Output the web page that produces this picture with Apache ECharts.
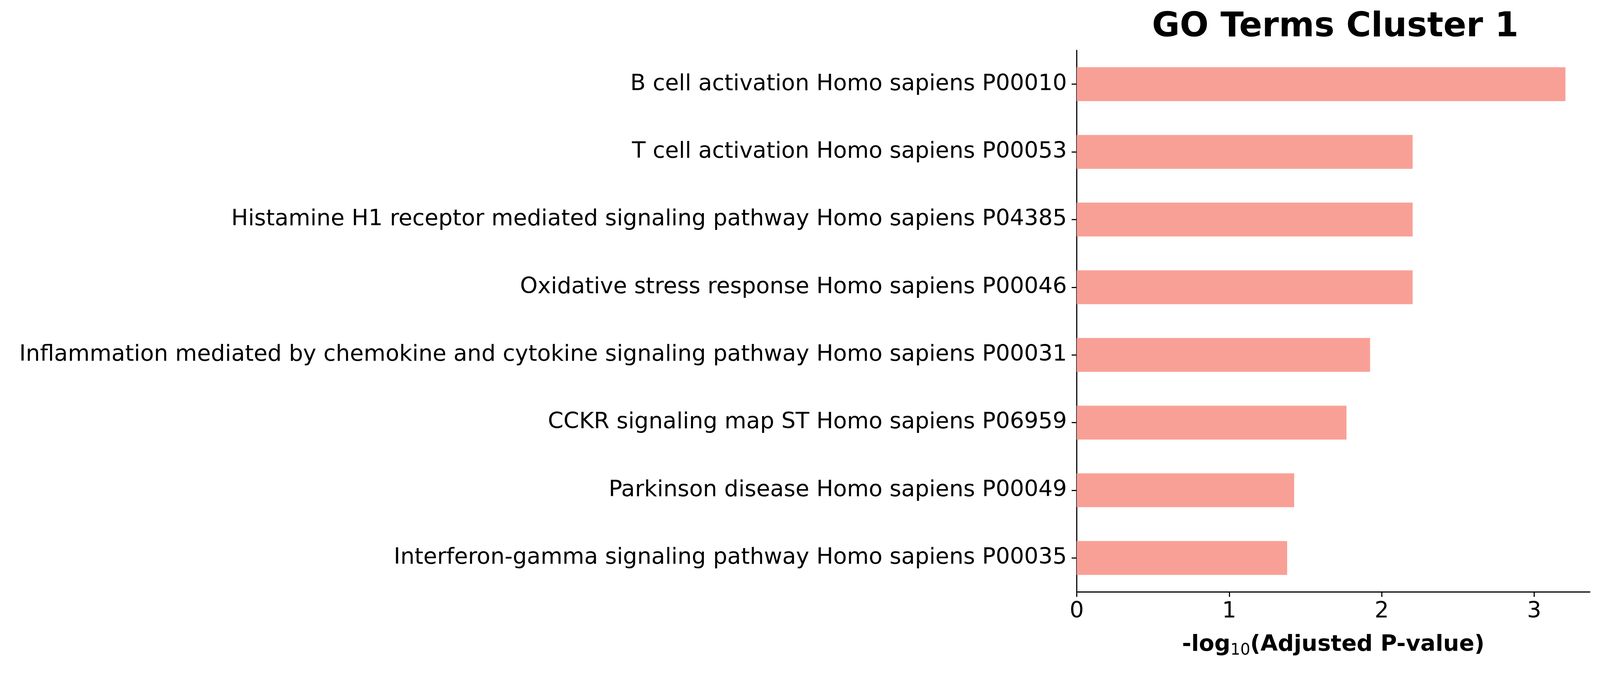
<!DOCTYPE html>
<html>
<head>
<meta charset="utf-8">
<script src="https://cdn.jsdelivr.net/npm/echarts@6/dist/echarts.min.js"></script>
<style>
  html, body { margin: 0; padding: 0; background: #fff; overflow: hidden; }
  #chart { width: 100vw; height: 100vh; }
</style>
</head>
<body>
<div id="chart"></div>
<script>
// GO terms, top to bottom as shown
const terms = [
  'B cell activation Homo sapiens P00010',
  'T cell activation Homo sapiens P00053',
  'Histamine H1 receptor mediated signaling pathway Homo sapiens P04385',
  'Oxidative stress response Homo sapiens P00046',
  'Inflammation mediated by chemokine and cytokine signaling pathway Homo sapiens P00031',
  'CCKR signaling map ST Homo sapiens P06959',
  'Parkinson disease Homo sapiens P00049',
  'Interferon-gamma signaling pathway Homo sapiens P00035'
];
// -log10(adjusted p)
const scores = [3.205, 2.203, 2.203, 2.203, 1.924, 1.769, 1.426, 1.380];
const xTicks = [0, 1, 2, 3];

const font = 'DejaVu Sans';
const el = document.getElementById('chart');
const chart = echarts.init(el);

// sizes were measured on a 4715 x 1724 canvas, scale them to whatever we got
const sx = el.clientWidth / 4715;
const sy = el.clientHeight / 1724;
const s = Math.min(sx, sy);

chart.setOption({
  backgroundColor: '#fff',
  animation: false,
  title: {
    text: 'GO Terms Cluster 1',
    left: 3929 * sx,
    top: 22 * sy,
    textAlign: 'center',
    textStyle: { fontFamily: font, fontSize: 100 * s, fontWeight: 'bold', color: '#000' }
  },
  grid: { left: 3173 * sx, right: 30 * sx, top: 129 * sy, bottom: 208 * sy },
  xAxis: {
    type: 'value',
    min: 0,
    max: 3.365,
    splitLine: { show: false },
    axisLine: { show: true, lineStyle: { color: '#000', width: 3.3 * s } },
    axisTick: { show: true, length: 15 * s, customValues: xTicks, lineStyle: { color: '#000', width: 3.3 * s } },
    axisLabel: {
      customValues: xTicks,
      margin: 26 * s,
      fontFamily: font, fontSize: 66 * s, color: '#000'
    },
    name: '{b|-log}{s|10}{b|(Adjusted P-value)}',
    nameLocation: 'middle',
    nameGap: 101 * sy,
    nameTextStyle: {
      rich: {
        b: { fontFamily: font, fontSize: 66 * s, fontWeight: 'bold', color: '#000', lineHeight: 80 * s },
        s: { fontFamily: font, fontSize: 46 * s, color: '#000', lineHeight: 46 * s, verticalAlign: 'bottom' }
      }
    }
  },
  yAxis: {
    type: 'category',
    inverse: true,
    data: terms,
    axisLine: { show: true, lineStyle: { color: '#000', width: 3.3 * s } },
    axisTick: { show: true, length: 15 * s, alignWithLabel: true, lineStyle: { color: '#000', width: 3.3 * s } },
    axisLabel: { margin: 29 * s, fontFamily: font, fontSize: 66 * s, color: '#000' }
  },
  series: [{
    type: 'bar',
    data: scores,
    barWidth: '50%',
    itemStyle: { color: '#F9A096' }
  }]
});
</script>
</body>
</html>
